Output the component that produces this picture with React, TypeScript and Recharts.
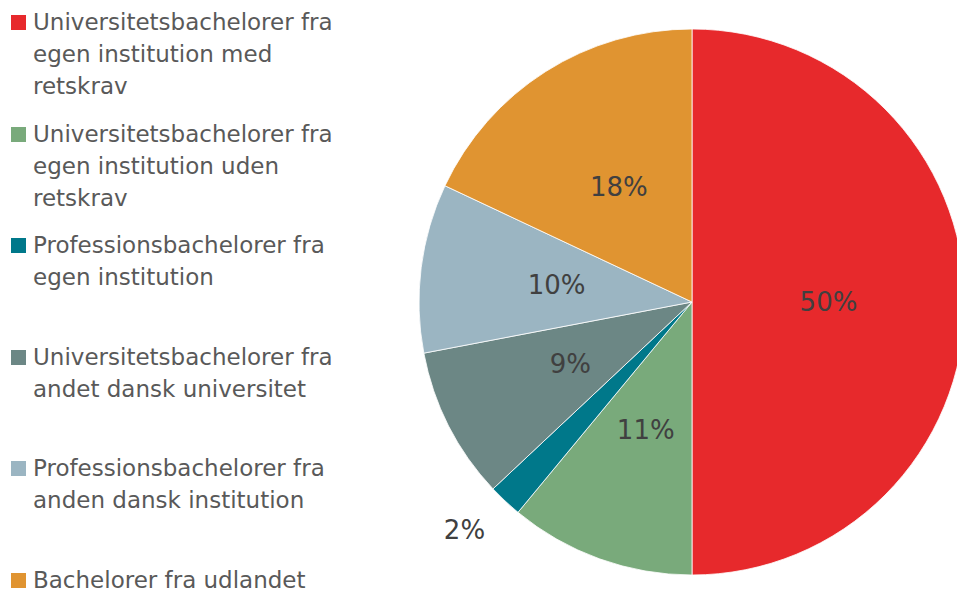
import { PieChart, Pie, Cell, Legend } from 'recharts';

const categories = [
  'Universitetsbachelorer fra\negen institution med\nretskrav',
  'Universitetsbachelorer fra\negen institution uden\nretskrav',
  'Professionsbachelorer fra\negen institution',
  'Universitetsbachelorer fra\nandet dansk universitet',
  'Professionsbachelorer fra\nanden dansk institution',
  'Bachelorer fra udlandet',
];
const shares = [50, 11, 2, 9, 10, 18];
const colors = ['#E7292C', '#79AA7B', '#00788A', '#6C8785', '#9BB5C2', '#E09431'];

const data = categories.map((name, i) => ({ name, value: shares[i] }));

const FONT = '"DejaVu Sans", Verdana, sans-serif';
const RAD = Math.PI / 180;

function renderLabel(props: any) {
  const { cx, cy, midAngle, outerRadius, value } = props;
  const outside = value < 5;
  const r = outside ? outerRadius * 1.18 : outerRadius * 0.5;
  const x = cx + r * Math.cos(-midAngle * RAD) - (outside ? 7 : 0);
  const y = cy + r * Math.sin(-midAngle * RAD) - (outside ? 7 : 0);
  return (
    <text x={x} y={y} fill="#404040" fontSize={26} fontFamily={FONT}
      textAnchor="middle" dominantBaseline="central">
      {`${value}%`}
    </text>
  );
}

// legend drawn in data order (the payload order is not guaranteed)
function LegendBox() {
  return (
    <div style={{ fontFamily: FONT, fontSize: 23, color: '#595959', lineHeight: '32px' }}>
      {categories.map((name, i) => (
        <div key={i} style={{ position: 'absolute', left: 11, top: 6 + i * 111.6, display: 'flex' }}>
          <span style={{ width: 15, height: 15, background: colors[i], marginTop: 9, marginRight: 7, flexShrink: 0 }} />
          <span style={{ whiteSpace: 'pre-line' }}>{name}</span>
        </div>
      ))}
    </div>
  );
}

export default function App() {
  return (
    <div style={{ position: 'absolute', left: 0, top: 0, width: 957, height: 592, overflow: 'hidden', background: '#fff' }}>
      <PieChart width={957} height={592} margin={{ top: 0, right: 0, bottom: 0, left: 0 }}>
        <Legend content={LegendBox} wrapperStyle={{ left: 0, top: 0, width: 340, height: 592 }} />
        <Pie
          data={data}
          dataKey="value"
          nameKey="name"
          cx={692}
          cy={302}
          outerRadius={273}
          startAngle={90}
          endAngle={-270}
          stroke="#fff"
          strokeWidth={0.8}
          label={renderLabel}
          labelLine={false}
          isAnimationActive={false}
        >
          {data.map((d, i) => (
            <Cell key={d.name} fill={colors[i]} />
          ))}
        </Pie>
      </PieChart>
    </div>
  );
}
